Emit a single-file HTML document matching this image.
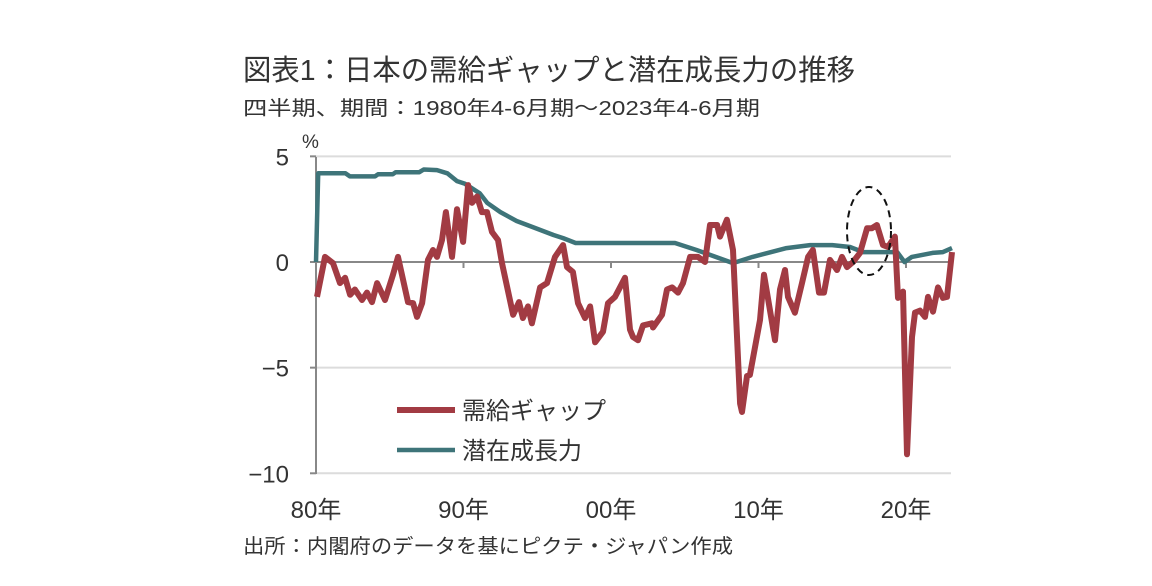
<!DOCTYPE html>
<html><head><meta charset="utf-8"><style>
html,body{margin:0;padding:0;background:#fff;}
svg{display:block;font-family:"Liberation Sans","Noto Sans CJK JP",sans-serif;}
</style></head><body>
<svg id="chart" width="1152" height="586" viewBox="0 0 1152 586">
<text x="243" y="80" font-size="29" fill="#333" textLength="612" lengthAdjust="spacingAndGlyphs">図表1：日本の需給ギャップと潜在成長力の推移</text>
<text x="243" y="115" font-size="20" fill="#333" textLength="517" lengthAdjust="spacingAndGlyphs">四半期、期間：1980年4-6月期～2023年4-6月期</text>
<text x="302" y="148" font-size="19" fill="#333">%</text>
<g id="grid"></g>
<g id="yticks"></g>
<g id="xticks"></g>
<g id="series"></g>
<ellipse cx="869" cy="231" rx="22" ry="44" fill="none" stroke="#111" stroke-width="2" stroke-dasharray="7,5"/>
<g>
<g><line x1="397" y1="410" x2="455" y2="410" stroke="#a23b43" stroke-width="6"/><text x="462" y="419" font-size="24" fill="#333">需給ギャップ</text></g>
<g><line x1="397" y1="450" x2="455" y2="450" stroke="#3e7479" stroke-width="4.5"/><text x="462" y="459" font-size="24" fill="#333">潜在成長力</text></g>
</g>
<text x="243" y="553" font-size="20" fill="#333" textLength="490" lengthAdjust="spacingAndGlyphs">出所：内閣府のデータを基にピクテ・ジャパン作成</text>
</svg>
<script>
const yTicks=[5,0,-5,-10];
const xTickYears=[1980,1990,2000,2010,2020];
const xTickLabels=["80年","90年","00年","10年","20年"];
const gapYears=[1980.07,1980.61,1981.15,1981.63,1981.97,1982.31,1982.64,1983.12,1983.46,1983.8,1984.14,1984.68,1985.22,1985.56,1986.24,1986.58,1986.85,1987.19,1987.59,1987.93,1988.2,1988.54,1988.81,1989.22,1989.56,1989.97,1990.31,1990.58,1990.92,1991.25,1991.59,1991.93,1992.34,1992.61,1993.36,1993.76,1994.03,1994.37,1994.64,1995.19,1995.66,1996.2,1996.75,1997.02,1997.42,1997.76,1998.24,1998.58,1998.92,1999.46,1999.8,2000.27,2000.95,2001.29,2001.49,2001.83,2002.17,2002.78,2002.85,2003.46,2003.8,2004.14,2004.54,2004.88,2005.36,2005.9,2006.37,2006.71,2007.19,2007.39,2007.86,2008.27,2008.75,2008.88,2009.22,2009.42,2010.1,2010.37,2011.12,2011.46,2011.8,2012.0,2012.47,2012.95,2013.36,2013.69,2014.1,2014.44,2014.85,2015.32,2015.66,2016.0,2016.41,2016.88,2017.36,2017.69,2018.03,2018.44,2018.78,2019.25,2019.46,2019.8,2020.07,2020.41,2020.61,2020.95,2021.29,2021.49,2021.83,2022.17,2022.51,2022.78,2023.12];
const gapValues=[-1.65,0.24,-0.05,-1.0,-0.75,-1.55,-1.3,-1.8,-1.45,-1.9,-1.0,-1.8,-0.6,0.24,-1.9,-1.95,-2.6,-1.95,0.1,0.57,0.24,1.04,2.36,0.24,2.5,0.95,3.64,2.8,3.1,2.36,2.36,1.42,1.04,-0.05,-2.5,-1.9,-2.65,-2.1,-2.9,-1.2,-1.0,0.24,0.8,-0.24,-0.47,-1.95,-2.65,-2.1,-3.8,-3.3,-1.95,-1.65,-0.75,-3.2,-3.55,-3.7,-3.0,-2.9,-3.1,-2.5,-1.3,-1.2,-1.45,-1.0,0.24,0.24,0,1.75,1.75,1.2,2.0,0.57,-6.7,-7.1,-5.4,-5.35,-2.75,-0.6,-3.7,-1.3,-0.38,-1.65,-2.4,-1.0,0.24,0.57,-1.45,-1.45,0.1,-0.38,0.24,-0.24,0,0.43,1.6,1.6,1.75,0.8,0.71,1.2,-1.7,-1.4,-9.1,-3.55,-2.4,-2.3,-2.6,-1.65,-2.35,-1.2,-1.7,-1.65,0.47];
const potYears=[1980.0,1980.15,1982.0,1982.3,1984.0,1984.2,1985.2,1985.4,1987.0,1987.3,1988.2,1988.9,1989.56,1990.1,1991.1,1991.6,1992.5,1993.6,1994.7,1996.1,1996.75,1997.6,2004.34,2005.8,2008.27,2009.6,2011.9,2013.5,2015.0,2016.2,2017.1,2019.4,2019.9,2020.4,2021.8,2022.5,2023.12];
const potValues=[0,4.2,4.2,4.05,4.05,4.15,4.15,4.25,4.25,4.38,4.35,4.2,3.83,3.7,3.25,2.8,2.36,1.94,1.65,1.28,1.13,0.9,0.9,0.57,-0.05,0.24,0.66,0.8,0.8,0.71,0.47,0.47,0,0.24,0.43,0.47,0.66];
const NS="http://www.w3.org/2000/svg";
const X0=316,X1=951,Y0=157,Y1=474;
function xScale(yr){return 316+(yr-1980)*14.75;}
function yScale(v){return 262-v*21.13;}
function mk(tag,attrs,parent){const e=document.createElementNS(NS,tag);for(const k in attrs)e.setAttribute(k,attrs[k]);parent.appendChild(e);return e;}
const grid=document.getElementById('grid'),yt=document.getElementById('yticks'),xt=document.getElementById('xticks'),ser=document.getElementById('series');
yTicks.forEach(v=>{
  const y=yScale(v);
  if(v!==0){const g=mk('line',{x1:X0,x2:X1,y1:y,y2:y,stroke:'#dcdcdc','stroke-width':2},grid);
  
  }
  const tk=mk('line',{x1:X0-6,x2:X0,y1:y,y2:y,stroke:'#888','stroke-width':2},yt);
  
  
  const t=mk('text',{x:289,y:y+9,'font-size':24,fill:'#333','text-anchor':'end'},yt);
  
  
  t.textContent=(v<0?'−':'')+Math.abs(v);
});
const ax=mk('line',{x1:X0,x2:X0,y1:Y0,y2:Y1,stroke:'#888','stroke-width':2},yt);


const zl=mk('line',{x1:X0,x2:X1,y1:yScale(0),y2:yScale(0),stroke:'#888','stroke-width':2},xt);


xTickYears.forEach((yr,i)=>{
  const x=xScale(yr);
  if(i>0){const tk=mk('line',{x1:x,x2:x,y1:yScale(0),y2:yScale(0)+6,stroke:'#888','stroke-width':2},xt);
  
  }
  const t=mk('text',{x:x,y:518,'font-size':24,fill:'#333','text-anchor':'middle'},xt);
  
  
  t.textContent=xTickLabels[i];
});
function pts(ys,vs){return ys.map((y,i)=>xScale(y).toFixed(1)+','+yScale(vs[i]).toFixed(1)).join(' ');}
const pl=mk('polyline',{points:pts(potYears,potValues),fill:'none',stroke:'#3e7479','stroke-width':4.5,'stroke-linejoin':'round'},ser);


const gl=mk('polyline',{points:pts(gapYears,gapValues),fill:'none',stroke:'#a23b43','stroke-width':6,'stroke-linejoin':'round'},ser);


</script>
</body></html>
